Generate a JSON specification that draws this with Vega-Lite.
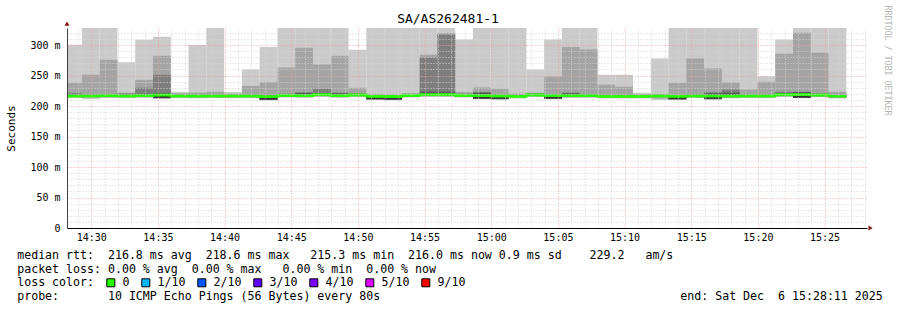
{
  "$schema": "https://vega.github.io/schema/vega-lite/v6.json",
  "width": 800,
  "height": 200,
  "autosize": {"type": "none"},
  "padding": {"left": 67, "top": 28, "right": 30, "bottom": 82},
  "background": "white",
  "config": {"view": {"stroke": null}, "font": "DejaVu Sans Mono"},
  "title": {"text": "SA/AS262481-1", "font": "DejaVu Sans Mono", "fontSize": 13, "fontWeight": "normal", "color": "black", "anchor": "middle", "frame": "group", "dx": -19, "dy": 36, "offset": 5, "baseline": "alphabetic"},
  "data": {"values": [
    {"t":27.967,"end":29.3,"p1":213.0,"p2":214.0,"p3":214.7,"p4":215.3,"p5":216.1,"p6":216.9,"p7":218.5,"p8":221.0,"p9":238.2,"p10":300.5,"median":216.5,"loss":"0"},
    {"t":29.3,"end":30.633,"p1":211.0,"p2":214.0,"p3":214.7,"p4":215.3,"p5":216.1,"p6":216.9,"p7":218.0,"p8":219.0,"p9":251.3,"p10":345,"median":216.5,"loss":"0"},
    {"t":30.633,"end":31.967,"p1":213.3,"p2":214.3,"p3":215.0,"p4":215.6,"p5":216.4,"p6":217.2,"p7":218.3,"p8":219.3,"p9":275.9,"p10":345,"median":216.8,"loss":"0"},
    {"t":31.967,"end":33.3,"p1":213.0,"p2":214.0,"p3":214.7,"p4":215.3,"p5":216.1,"p6":216.9,"p7":219.0,"p8":220.5,"p9":222.0,"p10":272.0,"median":216.5,"loss":"0"},
    {"t":33.3,"end":34.633,"p1":213.5,"p2":214.5,"p3":215.2,"p4":215.8,"p5":216.6,"p6":217.4,"p7":219.5,"p8":230.0,"p9":243.0,"p10":308.7,"median":217.0,"loss":"0"},
    {"t":34.633,"end":35.967,"p1":212.0,"p2":212.5,"p3":213.0,"p4":213.2,"p5":213.5,"p6":218.4,"p7":221.0,"p8":251.3,"p9":282.4,"p10":313.6,"median":218.0,"loss":"0"},
    {"t":35.967,"end":37.3,"p1":213.0,"p2":214.0,"p3":214.7,"p4":215.3,"p5":216.1,"p6":216.9,"p7":218.0,"p8":219.0,"p9":221.0,"p10":223.4,"median":216.5,"loss":"0"},
    {"t":37.3,"end":38.633,"p1":212.8,"p2":213.8,"p3":214.5,"p4":215.1,"p5":215.9,"p6":216.7,"p7":217.8,"p8":219.0,"p9":222.0,"p10":300.0,"median":216.3,"loss":"0"},
    {"t":38.633,"end":39.967,"p1":213.0,"p2":214.0,"p3":214.7,"p4":215.3,"p5":216.1,"p6":216.9,"p7":218.0,"p8":219.0,"p9":223.4,"p10":345,"median":216.5,"loss":"0"},
    {"t":39.967,"end":41.3,"p1":213.0,"p2":214.0,"p3":214.7,"p4":215.3,"p5":216.1,"p6":216.9,"p7":218.0,"p8":219.0,"p9":220.0,"p10":223.0,"median":216.5,"loss":"0"},
    {"t":41.3,"end":42.633,"p1":213.0,"p2":214.0,"p3":214.7,"p4":215.3,"p5":216.1,"p6":216.9,"p7":218.0,"p8":219.0,"p9":233.0,"p10":260.0,"median":216.5,"loss":"0"},
    {"t":42.633,"end":43.967,"p1":209.3,"p2":209.8,"p3":210.3,"p4":210.5,"p5":210.8,"p6":215.7,"p7":216.8,"p8":218.5,"p9":239.3,"p10":297.0,"median":215.3,"loss":"0"},
    {"t":43.967,"end":45.3,"p1":214.0,"p2":215.0,"p3":215.7,"p4":216.3,"p5":217.1,"p6":217.9,"p7":219.0,"p8":220.0,"p9":263.3,"p10":345,"median":217.5,"loss":"0"},
    {"t":45.3,"end":46.633,"p1":213.5,"p2":214.5,"p3":215.2,"p4":215.8,"p5":216.6,"p6":217.4,"p7":221.5,"p8":222.5,"p9":295.5,"p10":345,"median":217.0,"loss":"0"},
    {"t":46.633,"end":47.967,"p1":215.0,"p2":216.0,"p3":216.7,"p4":217.3,"p5":218.1,"p6":218.9,"p7":221.0,"p8":228.4,"p9":268.0,"p10":345,"median":218.5,"loss":"0"},
    {"t":47.967,"end":49.3,"p1":213.5,"p2":214.5,"p3":215.2,"p4":215.8,"p5":216.6,"p6":217.4,"p7":221.0,"p8":222.0,"p9":282.4,"p10":345,"median":217.0,"loss":"0"},
    {"t":49.3,"end":50.633,"p1":214.7,"p2":215.7,"p3":216.4,"p4":217.0,"p5":217.8,"p6":218.6,"p7":219.7,"p8":221.0,"p9":230.0,"p10":292.3,"median":218.2,"loss":"0"},
    {"t":50.633,"end":51.967,"p1":210.0,"p2":210.5,"p3":211.0,"p4":211.2,"p5":211.5,"p6":216.4,"p7":217.5,"p8":218.5,"p9":219.5,"p10":345,"median":216.0,"loss":"0"},
    {"t":51.967,"end":53.3,"p1":209.5,"p2":210.0,"p3":210.5,"p4":210.7,"p5":211.0,"p6":215.9,"p7":217.0,"p8":218.0,"p9":219.0,"p10":345,"median":215.5,"loss":"0"},
    {"t":53.3,"end":54.633,"p1":214.0,"p2":215.0,"p3":215.7,"p4":216.3,"p5":217.1,"p6":217.9,"p7":219.0,"p8":220.0,"p9":220.7,"p10":345,"median":217.5,"loss":"0"},
    {"t":54.633,"end":55.967,"p1":215.0,"p2":216.0,"p3":216.7,"p4":217.3,"p5":218.1,"p6":218.9,"p7":223.5,"p8":279.7,"p9":284.0,"p10":345,"median":218.5,"loss":"0"},
    {"t":55.967,"end":57.3,"p1":215.0,"p2":216.0,"p3":216.7,"p4":217.3,"p5":218.1,"p6":218.9,"p7":223.5,"p8":317.0,"p9":320.0,"p10":345,"median":218.5,"loss":"0"},
    {"t":57.3,"end":58.633,"p1":214.0,"p2":215.0,"p3":215.7,"p4":216.3,"p5":217.1,"p6":217.9,"p7":219.0,"p8":220.0,"p9":223.0,"p10":309.2,"median":217.5,"loss":"0"},
    {"t":58.633,"end":59.967,"p1":211.0,"p2":211.5,"p3":212.0,"p4":212.2,"p5":212.5,"p6":217.4,"p7":222.0,"p8":223.0,"p9":230.5,"p10":345,"median":217.0,"loss":"0"},
    {"t":59.967,"end":61.3,"p1":210.5,"p2":211.0,"p3":211.5,"p4":211.7,"p5":212.0,"p6":216.9,"p7":218.0,"p8":219.0,"p9":228.4,"p10":345,"median":216.5,"loss":"0"},
    {"t":61.3,"end":62.633,"p1":212.5,"p2":213.5,"p3":214.2,"p4":214.8,"p5":215.6,"p6":216.4,"p7":217.5,"p8":218.5,"p9":220.0,"p10":345,"median":216.0,"loss":"0"},
    {"t":62.633,"end":63.967,"p1":214.8,"p2":215.8,"p3":216.5,"p4":217.1,"p5":217.9,"p6":218.7,"p7":219.8,"p8":220.8,"p9":222.0,"p10":260.0,"median":218.3,"loss":"0"},
    {"t":63.967,"end":65.3,"p1":211.0,"p2":211.5,"p3":212.0,"p4":212.2,"p5":212.5,"p6":217.4,"p7":218.5,"p8":219.5,"p9":248.6,"p10":309.2,"median":217.0,"loss":"0"},
    {"t":65.3,"end":66.633,"p1":213.3,"p2":214.3,"p3":215.0,"p4":215.6,"p5":216.4,"p6":217.2,"p7":221.0,"p8":222.0,"p9":297.0,"p10":345,"median":216.8,"loss":"0"},
    {"t":66.633,"end":67.967,"p1":213.5,"p2":214.5,"p3":215.2,"p4":215.8,"p5":216.6,"p6":217.4,"p7":218.5,"p8":219.5,"p9":292.8,"p10":345,"median":217.0,"loss":"0"},
    {"t":67.967,"end":69.3,"p1":212.5,"p2":213.5,"p3":214.2,"p4":214.8,"p5":215.6,"p6":216.4,"p7":217.5,"p8":218.5,"p9":235.0,"p10":251.3,"median":216.0,"loss":"0"},
    {"t":69.3,"end":70.633,"p1":212.5,"p2":213.5,"p3":214.2,"p4":214.8,"p5":215.6,"p6":216.4,"p7":217.5,"p8":218.5,"p9":231.6,"p10":251.3,"median":216.0,"loss":"0"},
    {"t":70.633,"end":71.967,"p1":212.5,"p2":213.5,"p3":214.2,"p4":214.8,"p5":215.6,"p6":216.4,"p7":217.5,"p8":218.5,"p9":219.0,"p10":221.8,"median":216.0,"loss":"0"},
    {"t":71.967,"end":73.3,"p1":210.0,"p2":212.0,"p3":214.7,"p4":215.3,"p5":216.1,"p6":216.9,"p7":218.0,"p8":219.0,"p9":219.5,"p10":278.0,"median":216.5,"loss":"0"},
    {"t":73.3,"end":74.633,"p1":210.0,"p2":210.5,"p3":211.0,"p4":211.2,"p5":211.5,"p6":216.4,"p7":217.5,"p8":218.5,"p9":238.2,"p10":345,"median":216.0,"loss":"0"},
    {"t":74.633,"end":75.967,"p1":213.0,"p2":214.0,"p3":214.7,"p4":215.3,"p5":216.1,"p6":216.9,"p7":218.0,"p8":219.0,"p9":278.0,"p10":345,"median":216.5,"loss":"0"},
    {"t":75.967,"end":77.3,"p1":210.5,"p2":211.0,"p3":211.5,"p4":211.7,"p5":212.0,"p6":216.9,"p7":221.0,"p8":222.5,"p9":261.7,"p10":345,"median":216.5,"loss":"0"},
    {"t":77.3,"end":78.633,"p1":212.8,"p2":213.8,"p3":214.5,"p4":215.1,"p5":215.9,"p6":216.7,"p7":222.0,"p8":227.0,"p9":238.7,"p10":345,"median":216.3,"loss":"0"},
    {"t":78.633,"end":79.967,"p1":213.0,"p2":214.0,"p3":214.7,"p4":215.3,"p5":216.1,"p6":216.9,"p7":218.0,"p8":219.0,"p9":227.3,"p10":345,"median":216.5,"loss":"0"},
    {"t":79.967,"end":81.3,"p1":213.0,"p2":214.0,"p3":214.7,"p4":215.3,"p5":216.1,"p6":216.9,"p7":218.0,"p8":219.0,"p9":239.8,"p10":248.6,"median":216.5,"loss":"0"},
    {"t":81.3,"end":82.633,"p1":214.9,"p2":215.9,"p3":216.6,"p4":217.2,"p5":218.0,"p6":218.8,"p7":221.5,"p8":223.5,"p9":285.7,"p10":309.2,"median":218.4,"loss":"0"},
    {"t":82.633,"end":83.967,"p1":212.6,"p2":213.1,"p3":213.6,"p4":213.8,"p5":214.1,"p6":219.0,"p7":223.0,"p8":223.5,"p9":320.2,"p10":345,"median":218.6,"loss":"0"},
    {"t":83.967,"end":85.3,"p1":214.5,"p2":215.5,"p3":216.2,"p4":216.8,"p5":217.6,"p6":218.4,"p7":219.5,"p8":220.5,"p9":287.4,"p10":345,"median":218.0,"loss":"0"},
    {"t":85.3,"end":86.633,"p1":212.5,"p2":213.5,"p3":214.2,"p4":214.8,"p5":215.6,"p6":216.4,"p7":217.5,"p8":218.5,"p9":223.4,"p10":345,"median":216.0,"loss":"0"}
  ]},
  "encoding": {
    "x": {
      "field": "t", "type": "quantitative",
      "scale": {"domain": [28.183, 88.183], "nice": false, "zero": false},
      "axis": {
        "title": [
          "median\u00a0rtt:\u00a0\u00a0216.8\u00a0ms\u00a0avg\u00a0\u00a0218.6\u00a0ms\u00a0max\u00a0\u00a0\u00a0215.3\u00a0ms\u00a0min\u00a0\u00a0216.0\u00a0ms\u00a0now\u00a00.9\u00a0ms\u00a0sd\u00a0\u00a0\u00a0\u00a0229.2\u00a0\u00a0\u00a0am/s",
          "packet\u00a0loss:\u00a00.00\u00a0%\u00a0avg\u00a0\u00a00.00\u00a0%\u00a0max\u00a0\u00a0\u00a00.00\u00a0%\u00a0min\u00a0\u00a00.00\u00a0%\u00a0now",
          "loss\u00a0color:",
          "probe:\u00a0\u00a0\u00a0\u00a0\u00a0\u00a0\u00a010\u00a0ICMP\u00a0Echo\u00a0Pings\u00a0(56\u00a0Bytes)\u00a0every\u00a080s\u00a0\u00a0\u00a0\u00a0\u00a0\u00a0\u00a0\u00a0\u00a0\u00a0\u00a0\u00a0\u00a0\u00a0\u00a0\u00a0\u00a0\u00a0\u00a0\u00a0\u00a0\u00a0\u00a0\u00a0\u00a0\u00a0\u00a0\u00a0\u00a0\u00a0\u00a0\u00a0\u00a0\u00a0\u00a0\u00a0\u00a0\u00a0\u00a0\u00a0\u00a0\u00a0\u00a0end:\u00a0Sat\u00a0Dec\u00a0\u00a06\u00a015:28:11\u00a02025"
        ],
        "titleFont": "DejaVu Sans Mono", "titleFontSize": 11.6, "titleFontWeight": "normal", "titleColor": "black",
        "titleAnchor": "start", "titleAlign": "left", "titleBaseline": "alphabetic",
        "titleX": -50.3, "titleY": 30.5, "titleLineHeight": 13.7,
        "values": [29,30,31,32,33,34,35,36,37,38,39,40,41,42,43,44,45,46,47,48,49,50,51,52,53,54,55,56,57,58,59,60,61,62,63,64,65,66,67,68,69,70,71,72,73,74,75,76,77,78,79,80,81,82,83,84,85,86,87,88],
        "labelExpr": "datum.value % 5 === 0 ? (14 + floor(datum.value / 60)) + ':' + ((datum.value % 60) < 10 ? '0' : '') + (datum.value % 60) : ''",
        "labelFont": "DejaVu Sans Mono", "labelFontSize": 10, "labelColor": "black",
        "labelOverlap": false, "labelFlush": false, "labelPadding": 4,
        "ticks": false,
        "domainColor": "black", "domainWidth": 1,
        "grid": true,
        "gridColor": {"condition": {"test": "datum.value % 5 === 0", "value": "#f2a0a0"}, "value": "#d4d4d4"},
        "gridDash": [1, 2], "gridWidth": 1,
        "zindex": 1
      }
    }
  },
  "layer": [
    {
      "mark": {"type": "rect", "color": "#cacaca", "clip": true},
      "encoding": {
        "x2": {"field": "end"},
        "y": {
          "field": "p1", "type": "quantitative",
          "scale": {"domain": [0, 328], "nice": false, "zero": true},
          "axis": {
            "title": "Seconds", "titleFont": "DejaVu Sans Mono", "titleFontSize": 11, "titleFontWeight": "normal", "titleColor": "black",
            "titleX": -56, "titleY": 100, "titleAlign": "center", "titleBaseline": "middle",
            "values": [0,10,20,30,40,50,60,70,80,90,100,110,120,130,140,150,160,170,180,190,200,210,220,230,240,250,260,270,280,290,300,310,320],
            "labelExpr": "datum.value % 50 === 0 ? (datum.value === 0 ? '0' : datum.value + ' m') : ''",
            "labelFont": "DejaVu Sans Mono", "labelFontSize": 10, "labelColor": "black", "labelPadding": 7, "labelOverlap": false,
            "ticks": false,
            "domainColor": "#404040", "domainWidth": 1,
            "grid": true,
            "gridColor": {"condition": {"test": "datum.value % 50 === 0", "value": "#f2a0a0"}, "value": "#d4d4d4"},
            "gridDash": [1, 2], "gridWidth": 1,
            "zindex": 1
          }
        },
        "y2": {"field": "p10"}
      }
    },
    {
      "mark": {"type": "rect", "color": "#a4a4a4", "clip": true},
      "encoding": {"x2": {"field": "end"}, "y": {"field": "p2", "type": "quantitative", "axis": null}, "y2": {"field": "p9"}}
    },
    {
      "mark": {"type": "rect", "color": "#7e7e7e", "clip": true},
      "encoding": {"x2": {"field": "end"}, "y": {"field": "p3", "type": "quantitative", "axis": null}, "y2": {"field": "p8"}}
    },
    {
      "mark": {"type": "rect", "color": "#585858", "clip": true},
      "encoding": {"x2": {"field": "end"}, "y": {"field": "p4", "type": "quantitative", "axis": null}, "y2": {"field": "p7"}}
    },
    {
      "mark": {"type": "rect", "color": "#323232", "clip": true},
      "encoding": {"x2": {"field": "end"}, "y": {"field": "p5", "type": "quantitative", "axis": null}, "y2": {"field": "p6"}}
    },
    {
      "mark": {"type": "line", "interpolate": "step-after", "strokeWidth": 2.5, "clip": true},
      "encoding": {
        "y": {"field": "median", "type": "quantitative", "axis": null},
        "color": {
          "field": "loss", "type": "nominal",
          "scale": {"domain": ["0", "1/10", "2/10", "3/10", "4/10", "5/10", "9/10"], "range": ["#26ff00", "#00b8ff", "#0059ff", "#5e00ff", "#7e00ff", "#dd00ff", "#ff0000"]},
          "legend": null
        }
      }
    },
    {
      "mark": {"type": "rule", "strokeWidth": 2.5, "clip": true},
      "encoding": {
        "x2": {"field": "end"},
        "y": {
          "field": "median", "type": "quantitative",
          "axis": {
            "orient": "right", "title": "RRDTOOL / TOBI OETIKER", "labels": false, "ticks": false, "domain": false, "grid": false,
            "titleAngle": 90, "titleFont": "DejaVu Sans Mono", "titleFontSize": 8.3, "titleFontWeight": "normal", "titleColor": "#b4b4b4",
            "titleX": 19, "titleY": -23, "titleAlign": "left", "titleBaseline": "middle"
          }
        },
        "color": {
          "field": "loss", "type": "nominal",
          "scale": {"domain": ["0", "1/10", "2/10", "3/10", "4/10", "5/10", "9/10"], "range": ["#26ff00", "#00b8ff", "#0059ff", "#5e00ff", "#7e00ff", "#dd00ff", "#ff0000"]},
          "legend": null
        }
      }
    },
    {
      "mark": {"type": "square", "filled": true, "size": 0, "opacity": 1, "clip": true},
      "encoding": {
        "y": {"field": "median", "type": "quantitative", "axis": null},
        "color": {
          "field": "loss", "type": "nominal",
          "scale": {"domain": ["0", "1/10", "2/10", "3/10", "4/10", "5/10", "9/10"], "range": ["#26ff00", "#00b8ff", "#0059ff", "#5e00ff", "#7e00ff", "#dd00ff", "#ff0000"]},
          "legend": {
            "title": null, "orient": "none", "legendX": 38, "legendY": 249,
            "direction": "horizontal", "gridAlign": "none",
            "labelFont": "DejaVu Sans Mono", "labelFontSize": 11.6, "labelColor": "black", "labelOffset": 6,
            "symbolType": "square", "symbolSize": 64, "symbolStrokeColor": "black", "symbolStrokeWidth": 1,
            "columnPadding": 9, "padding": 0
          }
        }
      }
    },
    {
      "data": {"values": [{"t": 88.45, "v": 0}]},
      "mark": {"type": "point", "shape": "triangle-right", "filled": true, "color": "#801010", "opacity": 1, "size": 24, "clip": false},
      "encoding": {"y": {"field": "v", "type": "quantitative", "axis": null}}
    },
    {
      "data": {"values": [{"t": 28.183, "v": 335}]},
      "mark": {"type": "point", "shape": "triangle-up", "filled": true, "color": "#801010", "opacity": 1, "size": 24, "clip": false},
      "encoding": {"y": {"field": "v", "type": "quantitative", "axis": null}}
    }
  ],
  "resolve": {"axis": {"y": "independent"}, "scale": {"color": "independent"}}
}
